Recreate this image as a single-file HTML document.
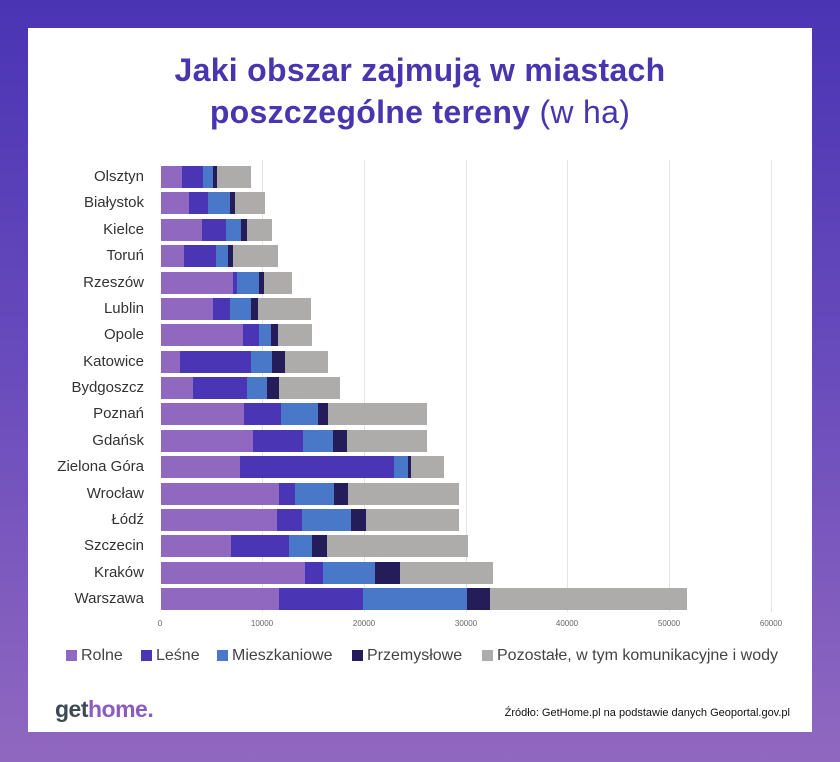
<!DOCTYPE html>
<html><head><meta charset="utf-8"><style>
body{margin:0;width:840px;height:762px;background:linear-gradient(180deg,#4a34b4 0%,#6a4cbc 50%,#9068c0 100%);font-family:"Liberation Sans",sans-serif;position:relative;overflow:hidden}
#card{position:absolute;left:28px;top:28px;width:784px;height:704px;background:#fff}
.t{position:absolute;left:0;width:840px;text-align:center;color:#4a35b0;font-size:32px;font-weight:bold;letter-spacing:0.3px}
.lab{position:absolute;right:696px;font-size:15px;color:#333;text-align:right;white-space:nowrap}
.s{position:absolute;height:22px}
.g{position:absolute;top:160px;height:452px;width:1px;background:#e4e4e4}
.tk{position:absolute;top:619px;font-size:8px;color:#666;width:40px;text-align:center}
.lg{position:absolute;top:647px;font-size:16px;color:#444;white-space:nowrap}
.lg i{display:inline-block;width:11px;height:11px;margin-right:4px;vertical-align:-1px}
</style></head><body>
<div id="card"></div>
<div class="t" style="top:52px">Jaki obszar zajmują w miastach</div>
<div class="t" style="top:94px">poszczególne tereny <span style="font-weight:normal">(w ha)</span></div>
<div class="g" style="left:262px"></div><div class="g" style="left:364px"></div><div class="g" style="left:466px"></div><div class="g" style="left:567px"></div><div class="g" style="left:669px"></div><div class="g" style="left:771px"></div>
<div class="tk" style="left:140px">0</div><div class="tk" style="left:242px">10000</div><div class="tk" style="left:344px">20000</div><div class="tk" style="left:446px">30000</div><div class="tk" style="left:547px">40000</div><div class="tk" style="left:649px">50000</div><div class="tk" style="left:751px">60000</div>
<div id="bars"></div>
<div class="lg" style="left:66px"><i style="background:#9068c0"></i>Rolne</div>
<div class="lg" style="left:141px"><i style="background:#4a35b5"></i>Leśne</div>
<div class="lg" style="left:217px"><i style="background:#4a78c8"></i>Mieszkaniowe</div>
<div class="lg" style="left:352px"><i style="background:#251d5a"></i>Przemysłowe</div>
<div class="lg" style="left:482px"><i style="background:#aeabab"></i>Pozostałe, w tym komunikacyjne i wody</div>
<div style="position:absolute;left:55px;top:696px;font-size:23px;font-weight:bold;letter-spacing:-0.5px"><span style="color:#3d4a55">get</span><span style="color:#8a5cc0">home.</span></div>
<div style="position:absolute;right:50px;top:707px;font-size:11px;color:#111">Źródło: GetHome.pl na podstawie danych Geoportal.gov.pl</div>
<script>
var d=[["Olsztyn",182,203,213,217,251],["Białystok",189,208,230,235,265],["Kielce",202,226,241,247,272],["Toruń",184,216,228,233,278],["Rzeszów",233,237,259,264,292],["Lublin",213,230,251,258,311],["Opole",243,259,271,278,312],["Katowice",180,251,272,285,328],["Bydgoszcz",193,247,267,279,340],["Poznań",244,281,318,328,427],["Gdańsk",253,303,333,347,427],["Zielona Góra",240,394,408,411,444],["Wrocław",279,295,334,348,459],["Łódź",277,302,351,366,459],["Szczecin",231,289,312,327,468],["Kraków",305,323,375,400,493],["Warszawa",279,363,467,490,687]];
var c=["#9068c0","#4a35b5","#4a78c8","#251d5a","#aeabab"],h="";
d.forEach(function(r,i){var y=166+i*26.375;h+='<div class="lab" style="top:'+(y+2)+'px">'+r[0]+'</div>';var p=161;for(var k=0;k<5;k++){h+='<div class="s" style="top:'+y+'px;left:'+p+'px;width:'+(r[k+1]-p)+'px;background:'+c[k]+'"></div>';p=r[k+1];}});
document.getElementById("bars").innerHTML=h;
</script>
</body></html>
